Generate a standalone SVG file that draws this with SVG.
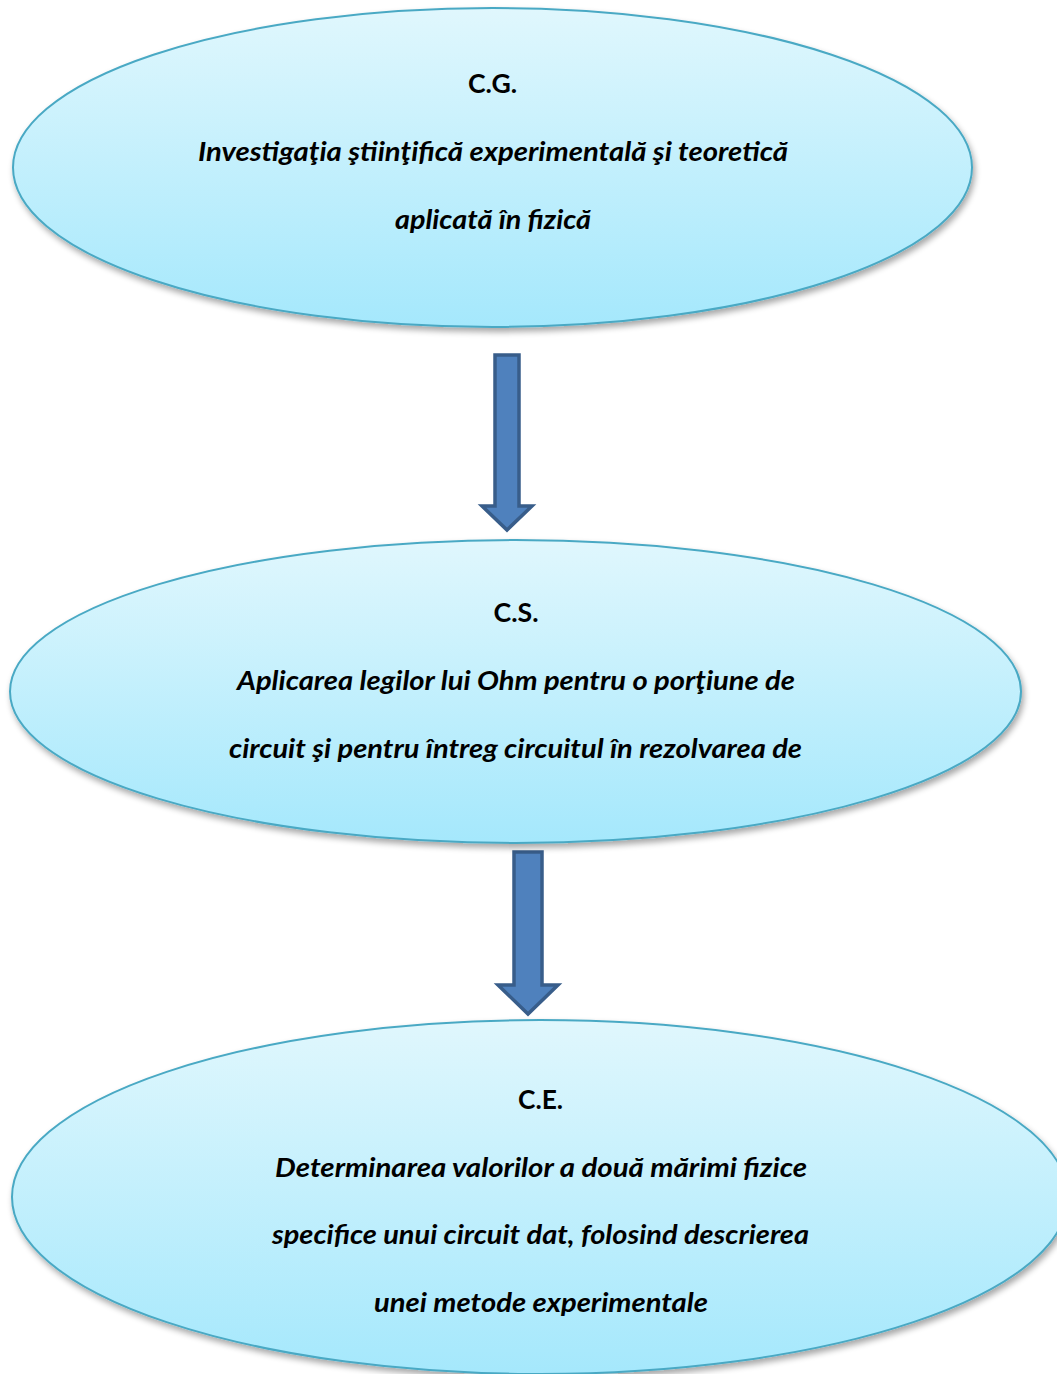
<svg xmlns="http://www.w3.org/2000/svg" width="1057" height="1374" viewBox="0 0 1057 1374">
<defs>
<linearGradient id="g" x1="0" y1="0" x2="0" y2="1">
<stop offset="0" stop-color="#e0f7fd"/>
<stop offset="1" stop-color="#a5e8fc"/>
</linearGradient>
<filter id="sh" x="-5%" y="-5%" width="112%" height="115%">
<feGaussianBlur in="SourceAlpha" stdDeviation="3"/>
<feOffset dx="2" dy="4" result="b"/>
<feComponentTransfer><feFuncA type="linear" slope="0.35"/></feComponentTransfer>
<feMerge><feMergeNode/><feMergeNode in="SourceGraphic"/></feMerge>
</filter>
<style>
.node{fill:url(#g);stroke:#4aa9c4;stroke-width:2;filter:url(#sh)}
.arr{fill:#4f81bd;stroke:#385d8a;stroke-width:3.5;stroke-linejoin:miter}
text{font-family:Lato,"Open Sans","Liberation Sans",sans-serif;font-weight:bold;fill:#000;text-anchor:middle;font-size:26px}
.h{font-style:normal}
.t{font-style:italic}
</style>
</defs>
<rect width="1057" height="1374" fill="#fff"/>
<g id="connectors">
<path class="arr" d="M495,355 H519 V506 H532 L507,530 L482,506 H495 Z"/>
<path class="arr" d="M514,852 H542 V985 H558 L528,1014 L498,985 H514 Z"/>
</g>
<g id="node-cg">
<ellipse class="node" cx="492.5" cy="167.5" rx="479.5" ry="159.5"/>
<text class="h" x="492.5" y="93" textLength="49" lengthAdjust="spacingAndGlyphs">C.G.</text>
<text class="t" x="493" y="161" textLength="590" lengthAdjust="spacingAndGlyphs">Investigaţia ştiinţifică experimentală şi teoretică</text>
<text class="t" x="493" y="229" textLength="196" lengthAdjust="spacingAndGlyphs">aplicată în fizică</text>
</g>
<g id="node-cs">
<ellipse class="node" cx="515.5" cy="691.5" rx="505.5" ry="151.5"/>
<text class="h" x="516" y="622" textLength="45" lengthAdjust="spacingAndGlyphs">C.S.</text>
<text class="t" x="516" y="690" textLength="558" lengthAdjust="spacingAndGlyphs">Aplicarea legilor lui Ohm pentru o porţiune de</text>
<text class="t" x="515.5" y="758" textLength="573" lengthAdjust="spacingAndGlyphs">circuit şi pentru întreg circuitul în rezolvarea de</text>
</g>
<g id="node-ce">
<ellipse class="node" cx="540" cy="1197" rx="528" ry="177"/>
<text class="h" x="540.5" y="1109" textLength="45" lengthAdjust="spacingAndGlyphs">C.E.</text>
<text class="t" x="541" y="1177" textLength="532" lengthAdjust="spacingAndGlyphs">Determinarea valorilor a două mărimi fizice</text>
<text class="t" x="540.5" y="1244" textLength="537" lengthAdjust="spacingAndGlyphs">specifice unui circuit dat, folosind descrierea</text>
<text class="t" x="541" y="1312" textLength="334" lengthAdjust="spacingAndGlyphs">unei metode experimentale</text>
</g>
</svg>
